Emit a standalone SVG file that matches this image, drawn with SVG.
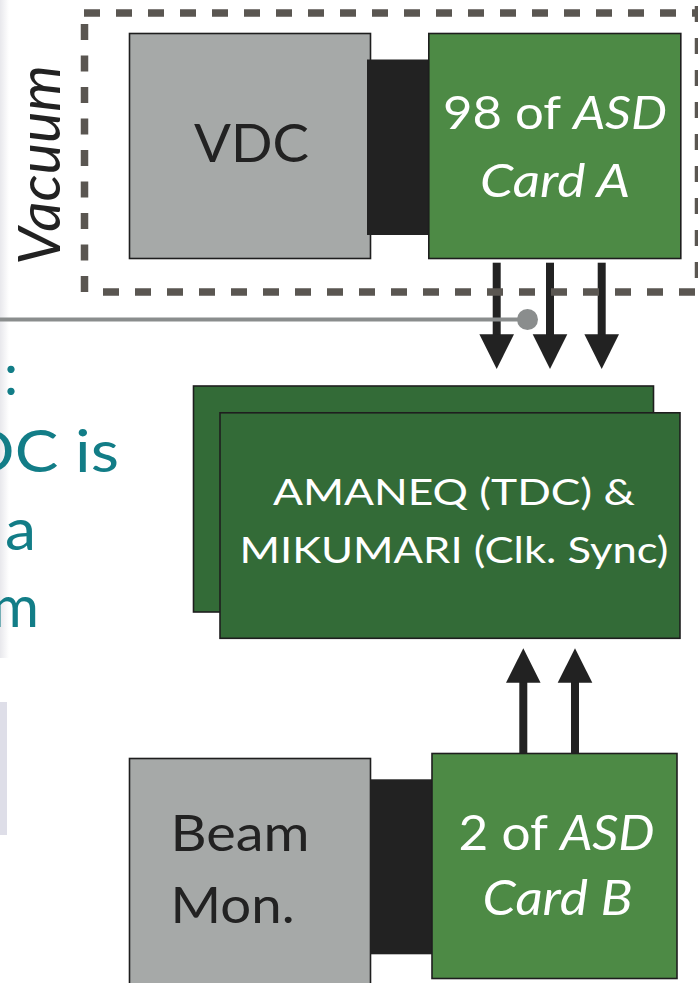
<svg xmlns="http://www.w3.org/2000/svg" width="698" height="983" viewBox="0 0 698 983">
<defs>
<linearGradient id="edge" x1="0" y1="0" x2="1" y2="0">
<stop offset="0" stop-color="#e8e8ec"/>
<stop offset="1" stop-color="#ffffff"/>
</linearGradient>
<marker id="ah" viewBox="0 0 34 35" refX="0" refY="17.3" markerWidth="34" markerHeight="35" markerUnits="userSpaceOnUse" orient="auto">
<path d="M0,0 L35,17.3 L0,34.6 Z" fill="#222"/>
</marker>
</defs>
<style>
.lbl{font-family:Lato,"Noto Sans","Liberation Sans",sans-serif;}
.dk{fill:#222;}
.wh{fill:#fff;}
.teal{fill:#127d87;font-family:Lato,"Noto Sans","Liberation Sans",sans-serif;font-size:58px;}
.gray{fill:#a6a9a8;stroke:#1e1e1e;stroke-width:1.6;}
.card{fill:#4d8a45;stroke:#1e1e1e;stroke-width:1.6;}
.tdc{fill:#336b37;stroke:#1e1e1e;stroke-width:1.6;}
.conn{fill:#222;}
.shaft{stroke:#222;stroke-width:8;fill:none;}
.head{fill:#222;}
.dash{stroke:#5a5651;stroke-width:7.5;fill:none;stroke-dasharray:16 16;}
</style>
<rect x="0" y="0" width="9" height="658" fill="url(#edge)"/>
<rect x="0" y="702" width="7" height="133" fill="#dedee8"/>
<g id="side-text">
<text class="teal" x="11" y="395" text-anchor="middle">:</text>
<text class="teal" x="-35" y="472" textLength="154" lengthAdjust="spacingAndGlyphs">DC is</text>
<text class="teal" x="5" y="550" textLength="31" lengthAdjust="spacingAndGlyphs">a</text>
<text class="teal" x="39" y="627" text-anchor="end">m</text>
</g>
<g id="vacuum-label">
<text class="lbl dk" transform="translate(60,265) rotate(-90)" x="0" y="0" font-size="58" font-style="italic" textLength="200" lengthAdjust="spacingAndGlyphs">Vacuum</text>
</g>
<g id="vdc">
<rect class="gray" x="129.5" y="33.5" width="241" height="225"/>
<text class="lbl dk" x="251.5" y="162.3" font-size="52" text-anchor="middle" textLength="115" lengthAdjust="spacingAndGlyphs">VDC</text>
</g>
<g id="connector-a">
<rect class="conn" x="367" y="59.5" width="62" height="175.5"/>
</g>
<g id="asd-card-a">
<rect class="card" x="428.8" y="33.5" width="252" height="225"/>
<text class="lbl wh" x="555" y="129.3" font-size="47" text-anchor="middle" textLength="224" lengthAdjust="spacingAndGlyphs">98 of <tspan font-style="italic">ASD</tspan></text>
<text class="lbl wh" x="555" y="196.7" font-size="47" font-style="italic" text-anchor="middle" textLength="150" lengthAdjust="spacingAndGlyphs">Card A</text>
</g>
<g id="amaneq">
<rect class="tdc" x="193.5" y="386" width="460" height="226"/>
<rect class="tdc" x="220" y="412.8" width="460" height="225.5"/>
<text class="lbl wh" x="454" y="505" font-size="37.5" text-anchor="middle" textLength="362" lengthAdjust="spacingAndGlyphs">AMANEQ (TDC) &amp;</text>
<text class="lbl wh" x="454" y="562.7" font-size="37.5" text-anchor="middle" textLength="429" lengthAdjust="spacingAndGlyphs">MIKUMARI (Clk. Sync)</text>
</g>
<g id="beam-mon">
<rect class="gray" x="129.5" y="758.5" width="241" height="226"/>
<text class="lbl dk" x="170.5" y="851" font-size="50" textLength="139" lengthAdjust="spacingAndGlyphs">Beam</text>
<text class="lbl dk" x="170.5" y="923.3" font-size="50" textLength="124" lengthAdjust="spacingAndGlyphs">Mon.</text>
</g>
<g id="connector-b">
<rect class="conn" x="370" y="779.3" width="62" height="175"/>
</g>
<g id="asd-card-b">
<rect class="card" x="432" y="753.5" width="245" height="225"/>
<text class="lbl wh" x="556.6" y="850" font-size="48" text-anchor="middle" textLength="196" lengthAdjust="spacingAndGlyphs">2 of <tspan font-style="italic">ASD</tspan></text>
<text class="lbl wh" x="557.5" y="915" font-size="48" font-style="italic" text-anchor="middle" textLength="150" lengthAdjust="spacingAndGlyphs">Card B</text>
</g>
<g id="connectors">
<line class="shaft" x1="496.7" y1="262.7" x2="496.7" y2="335"/>
<line class="shaft" x1="550" y1="262.7" x2="550" y2="335"/>
<line class="shaft" x1="601.7" y1="262.7" x2="601.7" y2="335"/>
<path class="head" d="M479.4,334.3 L514,334.3 L496.7,369 Z"/>
<path class="head" d="M532.7,334.3 L567.3,334.3 L550,369 Z"/>
<path class="head" d="M584.4,334.3 L619,334.3 L601.7,369 Z"/>
<line class="shaft" x1="523.3" y1="682" x2="523.3" y2="753.5"/>
<line class="shaft" x1="575" y1="682" x2="575" y2="753.5"/>
<path class="head" d="M506,682.7 L540.6,682.7 L523.3,648.3 Z"/>
<path class="head" d="M557.7,682.7 L592.3,682.7 L575,648.3 Z"/>
<line x1="0" y1="319.5" x2="527" y2="319.5" stroke="#8a8d8d" stroke-width="4"/>
<circle cx="527.5" cy="319.5" r="10.5" fill="#8a8d8d"/>
</g>
<g id="vacuum-box">
<line class="dash" x1="84" y1="13" x2="698" y2="13"/>
<line class="dash" x1="698.5" y1="6" x2="698.5" y2="292"/>
<line class="dash" x1="103" y1="292" x2="698" y2="292"/>
<line class="dash" x1="84.5" y1="24" x2="84.5" y2="296" style="stroke-dasharray:16 15.5"/>
</g>
</svg>
